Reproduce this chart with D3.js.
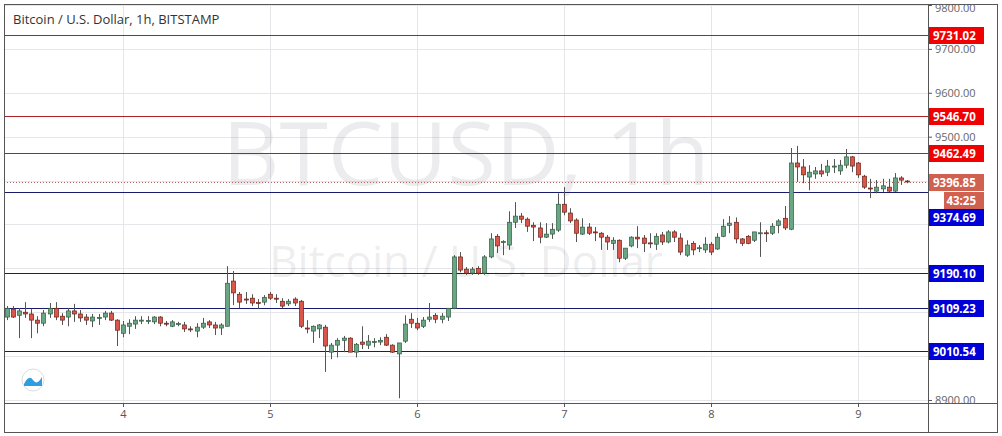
<!DOCTYPE html>
<html><head><meta charset="utf-8">
<script src="https://cdn.jsdelivr.net/npm/d3@7"></script>
<style>body{margin:0;background:#fff}svg{display:block}text{font-family:"Open Sans","Noto Sans",sans-serif}</style>
</head><body><svg id="c" width="1002" height="436"></svg>
<script>
const title = "Bitcoin / U.S. Dollar, 1h, BITSTAMP";
const firstHour = 5; // hours since day 3 00:00
const dayTicks = [4,5,6,7,8,9];
const priceTicks = [8900,9000,9100,9200,9300,9400,9500,9600,9700,9800];
const resistance = [9731.02, 9546.70, 9462.49];
const support = [9374.69, 9190.10, 9109.23, 9010.54];
const lastPrice = 9396.85;
const countdown = "43:25";
// [open, high, low, close]
const candles = [
[9089,9114,9082,9109],[9107,9114,9087,9089],[9093,9109,9041,9103],[9100,9123,9087,9096],[9096,9107,9041,9082],
[9082,9091,9052,9075],[9075,9105,9068,9098],[9096,9121,9087,9109],[9109,9123,9082,9089],[9091,9098,9071,9082],
[9089,9109,9068,9103],[9103,9119,9078,9096],[9096,9105,9078,9087],[9089,9096,9071,9082],[9080,9096,9066,9089],
[9087,9096,9071,9088],[9089,9103,9082,9098],[9098,9103,9080,9082],[9082,9084,9023,9059],[9052,9080,9043,9071],
[9068,9084,9050,9075],[9073,9091,9062,9082],[9080,9091,9073,9082],[9080,9091,9073,9081],[9078,9091,9073,9089],
[9089,9091,9068,9075],[9075,9080,9068,9073],[9068,9082,9066,9078],[9073,9078,9068,9074],[9071,9078,9055,9062],
[9062,9068,9055,9061],[9057,9075,9043,9066],[9066,9087,9062,9075],[9078,9082,9064,9071],[9071,9078,9048,9064],
[9064,9075,9048,9071],[9068,9205,9068,9166],[9171,9194,9116,9144],[9141,9146,9109,9123],[9130,9146,9119,9129],
[9132,9141,9114,9121],[9122,9130,9107,9121],[9123,9139,9116,9134],[9141,9146,9128,9132],[9132,9141,9121,9131],
[9125,9132,9109,9114],[9119,9130,9114,9125],[9130,9134,9114,9121],[9125,9128,9064,9068],[9064,9082,9052,9063],
[9057,9070,9030,9068],[9062,9073,9041,9071],[9066,9071,8964,9023],[9009,9030,8993,9025],[9025,9041,8997,9036],
[9036,9046,9009,9041],[9041,9043,9009,9009],[9009,9030,8997,9027],[9032,9068,9016,9027],[9025,9048,9016,9034],
[9032,9041,9020,9033],[9032,9043,9025,9036],[9043,9050,9023,9025],[9025,9027,9007,9009],[9005,9030,8904,9030],
[9034,9093,9030,9073],[9084,9098,9064,9075],[9075,9087,9059,9064],[9068,9089,9064,9082],[9084,9121,9078,9089],
[9093,9098,9075,9084],[9084,9098,9075,9091],[9089,9109,9080,9109],[9109,9230,9107,9226],[9226,9237,9191,9196],
[9198,9203,9185,9189],[9189,9203,9185,9198],[9200,9205,9185,9189],[9189,9230,9185,9226],[9226,9280,9223,9267],
[9273,9278,9235,9251],[9260,9264,9230,9261],[9253,9330,9242,9305],[9305,9351,9292,9319],[9319,9326,9303,9312],
[9312,9316,9283,9296],[9298,9305,9262,9294],[9292,9305,9257,9271],[9271,9303,9269,9278],[9278,9303,9267,9289],
[9287,9371,9283,9346],[9346,9385,9321,9328],[9326,9337,9303,9308],[9310,9314,9260,9280],[9278,9314,9276,9294],
[9294,9303,9276,9280],[9283,9294,9262,9282],[9280,9283,9242,9271],[9271,9276,9242,9260],[9257,9271,9242,9264],
[9264,9266,9214,9223],[9223,9246,9219,9246],[9251,9273,9248,9271],[9271,9296,9246,9267],[9269,9276,9237,9257],
[9258,9280,9246,9257],[9255,9280,9242,9273],[9276,9283,9253,9260],[9260,9287,9257,9283],[9283,9287,9260,9271],
[9269,9280,9230,9237],[9230,9264,9226,9253],[9257,9262,9230,9242],[9246,9253,9237,9247],[9242,9271,9235,9255],
[9255,9260,9230,9237],[9244,9280,9242,9271],[9273,9312,9271,9296],[9298,9319,9280,9303],[9305,9316,9257,9267],
[9267,9269,9251,9257],[9273,9276,9255,9257],[9264,9283,9260,9283],[9280,9305,9226,9281],[9281,9287,9260,9280],
[9280,9303,9276,9296],[9298,9312,9280,9308],[9314,9342,9287,9292],[9289,9474,9287,9440],[9440,9479,9397,9431],
[9431,9449,9394,9413],[9408,9435,9378,9419],[9415,9431,9404,9422],[9422,9438,9408,9415],[9419,9447,9410,9433],
[9431,9449,9417,9433],[9422,9447,9413,9435],[9435,9472,9428,9454],[9454,9456,9419,9433],[9440,9442,9406,9413],
[9410,9413,9381,9385],[9383,9404,9360,9382],[9376,9401,9371,9385],[9381,9404,9374,9388],[9385,9404,9374,9376],
[9376,9417,9374,9406],[9406,9410,9390,9401],[9399,9401,9394,9396.85]
];

const svg = d3.select("#c");
const L=4,T=4,R=928,B=403,AX=997;
const x = d3.scaleLinear().domain([24,144]).range([123,858]);
const y = d3.scaleLinear().domain([8900,9800]).range([400,5]);

const g = svg.append("g");
g.selectAll(".hg").data(priceTicks).join("line").attr("x1",L).attr("x2",R).attr("y1",d=>Math.round(y(d))+.5).attr("y2",d=>Math.round(y(d))+.5).attr("stroke","#e4e6ea");
g.selectAll(".vg").data(dayTicks).join("line").attr("y1",T).attr("y2",B).attr("x1",d=>Math.round(x((d-3)*24))+.5).attr("x2",d=>Math.round(x((d-3)*24))+.5).attr("stroke","#e4e6ea");
g.append("text").attr("x",466).attr("y",185).attr("text-anchor","middle").attr("font-size",88).attr("fill","rgba(120,123,134,0.14)").text("BTCUSD, 1h");
g.append("text").attr("x",466).attr("y",277).attr("text-anchor","middle").attr("font-size",44).attr("fill","rgba(120,123,134,0.14)").text("Bitcoin / U.S. Dollar");
g.selectAll(".rl").data(resistance).join("line").attr("x1",L).attr("x2",R).attr("y1",d=>Math.round(y(d))+.5).attr("y2",d=>Math.round(y(d))+.5).attr("stroke","#a82228").attr("stroke-width",1.2);
g.selectAll(".sl").data(support).join("line").attr("x1",L).attr("x2",R).attr("y1",d=>Math.round(y(d))+.5).attr("y2",d=>Math.round(y(d))+.5).attr("stroke","#1b1b6e").attr("stroke-width",1.2);
g.append("line").attr("x1",L).attr("x2",R).attr("y1",Math.round(y(lastPrice))+.5).attr("y2",Math.round(y(lastPrice))+.5).attr("stroke","#b0685c").attr("stroke-dasharray","1,2");
const cg = g.append("g").selectAll("g").data(candles).join("g");
cg.append("line").attr("x1",(d,i)=>Math.round(x(firstHour+i))+.5).attr("x2",(d,i)=>Math.round(x(firstHour+i))+.5)
  .attr("y1",d=>y(d[1])).attr("y2",d=>y(d[2])).attr("stroke","#555");
cg.append("rect").attr("x",(d,i)=>Math.round(x(firstHour+i))-1.5).attr("width",4)
  .attr("y",d=>y(Math.max(d[0],d[3]))).attr("height",d=>Math.max(1,Math.abs(y(d[0])-y(d[3]))))
  .attr("fill",d=>d[3]>=d[0]?"#6aa584":"#d9574a").attr("stroke",d=>d[3]>=d[0]?"#2f5c42":"#6b2018").attr("stroke-width",0.7);
svg.append("rect").attr("x",L+.5).attr("y",T+.5).attr("width",AX-L).attr("height",432-T).attr("fill","none").attr("stroke","#555");
svg.append("line").attr("x1",R+.5).attr("x2",R+.5).attr("y1",T).attr("y2",432).attr("stroke","#555");
svg.append("line").attr("x1",L).attr("x2",AX).attr("y1",B+.5).attr("y2",B+.5).attr("stroke","#555");
svg.append("text").attr("x",13).attr("y",24).attr("font-size",13).attr("fill","#333").text(title);
const labelY = resistance.concat([lastPrice]).map(v=>y(v)).concat(support.map((v,i)=>y(v)+(i===0?25:0)));
const visTicks = priceTicks.filter(p=>labelY.every(ly=>Math.abs(ly-y(p))>11));
const ya = svg.append("g").attr("transform",`translate(${R},0)`).call(d3.axisRight(y).tickValues(visTicks).tickFormat(d3.format(".2f")).tickSize(4));
ya.select(".domain").remove();
ya.selectAll("line").attr("stroke","#555");
ya.selectAll("text").attr("fill","#666").attr("font-size",11).attr("font-family","Open Sans, sans-serif");
ya.selectAll(".tick").filter(d=>d===9800).select("text").attr("dy","0.6em");
const xa = svg.append("g").attr("transform",`translate(0,${B})`).call(d3.axisBottom(x).tickValues(dayTicks.map(d=>(d-3)*24)).tickFormat(d=>d/24+3).tickSize(4));
xa.select(".domain").remove();
xa.selectAll("line").attr("stroke","#555");
xa.selectAll("text").attr("fill","#555").attr("font-size",11).attr("font-family","Open Sans, sans-serif");
function label(v,fill,txt,dy){
  const yy=Math.round(y(v))+(dy||0);
  svg.append("rect").attr("x",R+1).attr("y",yy-8).attr("width",55).attr("height",17).attr("fill",fill);
  svg.append("text").attr("x",R+5).attr("y",yy+4.5).attr("font-size",11.5).attr("font-weight","bold").attr("fill","#fff").text(txt);
}
resistance.forEach(v=>label(v,"#f00000",v.toFixed(2)));
label(lastPrice,"#d0604f",lastPrice.toFixed(2));
svg.append("rect").attr("x",R+16).attr("y",Math.round(y(lastPrice))+10).attr("width",40).attr("height",17).attr("fill","#d0604f");
svg.append("text").attr("x",R+48).attr("y",Math.round(y(lastPrice))+22.5).attr("text-anchor","end").attr("font-size",11.5).attr("font-weight","bold").attr("fill","#fff").text(countdown);
support.forEach((v,i)=>label(v,"#0000d8",v.toFixed(2), i===0?25:0));
svg.append("circle").attr("cx",33).attr("cy",380).attr("r",11).attr("fill","#fff").attr("stroke","#ddd");
svg.append("path").attr("d","M24,384 Q29,374 33,380 Q37,386 42,377 L42,386 L24,386Z").attr("fill","#2f9ee0");
</script></body></html>
